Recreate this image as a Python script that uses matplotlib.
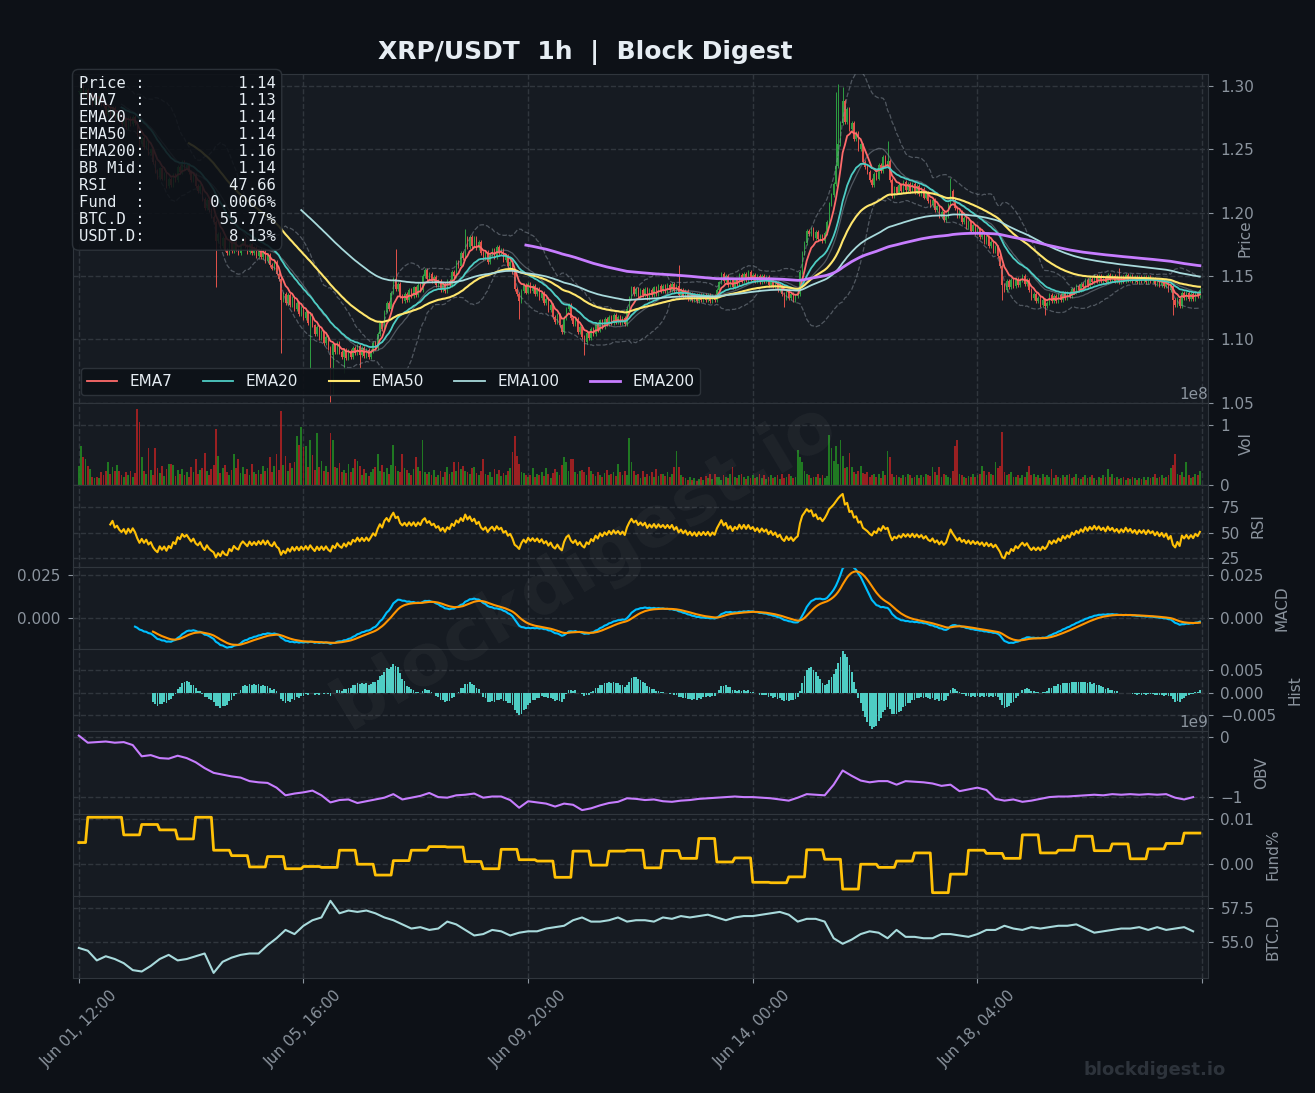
import numpy as np
import pandas as pd
import matplotlib
matplotlib.use("Agg")
import matplotlib.pyplot as plt
from matplotlib.ticker import FuncFormatter, MultipleLocator

# Colores (tema oscuro)
BG = '#0d1117'
PANEL = '#161b22'
GRID = '#30363d'
TXT = '#8b949e'
WHITE = '#e6edf3'

# Cierres horarios XRP/USDT desde Jun 01 12:00
close = [
    1.295, 1.300, 1.293, 1.297, 1.291, 1.294, 1.286, 1.291, 1.287, 1.293, 1.286, 1.284, 1.278, 1.282, 1.277, 1.283, 1.275, 1.278, 1.273, 1.270,
    1.274, 1.268, 1.275, 1.270, 1.276, 1.271, 1.262, 1.254, 1.259, 1.252, 1.256, 1.247, 1.250, 1.240, 1.233, 1.228, 1.235, 1.227, 1.231, 1.221,
    1.227, 1.222, 1.230, 1.226, 1.236, 1.232, 1.240, 1.235, 1.238, 1.232, 1.226, 1.230, 1.221, 1.217, 1.221, 1.211, 1.204, 1.210, 1.202, 1.197,
    1.193, 1.178, 1.183, 1.174, 1.180, 1.171, 1.168, 1.176, 1.170, 1.177, 1.171, 1.168, 1.175, 1.179, 1.174, 1.169, 1.175, 1.168, 1.172, 1.166,
    1.171, 1.165, 1.170, 1.162, 1.167, 1.159, 1.156, 1.161, 1.152, 1.148, 1.131, 1.136, 1.129, 1.135, 1.127, 1.133, 1.124, 1.129, 1.120, 1.125,
    1.117, 1.122, 1.113, 1.119, 1.111, 1.104, 1.110, 1.101, 1.106, 1.097, 1.102, 1.093, 1.088, 1.096, 1.090, 1.097, 1.090, 1.086, 1.092, 1.085,
    1.091, 1.086, 1.093, 1.089, 1.095, 1.088, 1.093, 1.087, 1.092, 1.086, 1.091, 1.097, 1.093, 1.104, 1.113, 1.108, 1.122, 1.129, 1.124, 1.137,
    1.148, 1.140, 1.144, 1.134, 1.130, 1.136, 1.131, 1.139, 1.134, 1.141, 1.135, 1.143, 1.139, 1.150, 1.155, 1.148, 1.152, 1.146, 1.149, 1.143,
    1.146, 1.139, 1.144, 1.138, 1.146, 1.143, 1.153, 1.150, 1.161, 1.158, 1.168, 1.164, 1.180, 1.173, 1.181, 1.174, 1.180, 1.172, 1.177, 1.168,
    1.164, 1.169, 1.161, 1.167, 1.171, 1.165, 1.173, 1.168, 1.171, 1.163, 1.166, 1.158, 1.161, 1.153, 1.140, 1.136, 1.130, 1.138, 1.143, 1.137,
    1.144, 1.138, 1.142, 1.136, 1.140, 1.133, 1.137, 1.129, 1.132, 1.123, 1.127, 1.118, 1.114, 1.119, 1.111, 1.106, 1.117, 1.124, 1.127, 1.117,
    1.112, 1.116, 1.106, 1.110, 1.102, 1.098, 1.105, 1.101, 1.108, 1.104, 1.112, 1.107, 1.115, 1.110, 1.116, 1.112, 1.118, 1.113, 1.119, 1.114,
    1.118, 1.113, 1.117, 1.112, 1.124, 1.133, 1.141, 1.136, 1.140, 1.134, 1.139, 1.135, 1.140, 1.133, 1.139, 1.135, 1.141, 1.136, 1.142, 1.138,
    1.142, 1.138, 1.143, 1.139, 1.144, 1.138, 1.142, 1.135, 1.139, 1.134, 1.138, 1.132, 1.136, 1.131, 1.135, 1.130, 1.135, 1.131, 1.135, 1.131,
    1.135, 1.130, 1.134, 1.131, 1.139, 1.145, 1.152, 1.146, 1.150, 1.143, 1.147, 1.141, 1.147, 1.144, 1.151, 1.146, 1.152, 1.147, 1.153, 1.148,
    1.151, 1.146, 1.150, 1.145, 1.150, 1.146, 1.149, 1.143, 1.147, 1.142, 1.145, 1.139, 1.142, 1.136, 1.133, 1.138, 1.133, 1.136, 1.131, 1.134,
    1.136, 1.153, 1.168, 1.176, 1.186, 1.183, 1.187, 1.180, 1.185, 1.179, 1.182, 1.178, 1.184, 1.193, 1.207, 1.214, 1.223, 1.237, 1.254, 1.271,
    1.288, 1.272, 1.282, 1.266, 1.271, 1.258, 1.263, 1.250, 1.254, 1.240, 1.236, 1.232, 1.226, 1.222, 1.231, 1.227, 1.238, 1.233, 1.244, 1.238,
    1.241, 1.226, 1.213, 1.220, 1.216, 1.222, 1.217, 1.224, 1.218, 1.223, 1.217, 1.223, 1.216, 1.221, 1.215, 1.219, 1.212, 1.216, 1.209, 1.206,
    1.210, 1.202, 1.205, 1.197, 1.201, 1.194, 1.197, 1.206, 1.217, 1.210, 1.204, 1.197, 1.201, 1.193, 1.196, 1.189, 1.193, 1.186, 1.190, 1.184,
    1.187, 1.181, 1.184, 1.177, 1.181, 1.174, 1.177, 1.170, 1.173, 1.166, 1.158, 1.143, 1.139, 1.146, 1.141, 1.147, 1.142, 1.148, 1.143, 1.147,
    1.150, 1.144, 1.147, 1.139, 1.133, 1.136, 1.130, 1.133, 1.127, 1.131, 1.126, 1.129, 1.135, 1.130, 1.134, 1.130, 1.135, 1.131, 1.137, 1.133,
    1.137, 1.134, 1.140, 1.137, 1.142, 1.139, 1.144, 1.141, 1.147, 1.143, 1.148, 1.145, 1.150, 1.146, 1.150, 1.146, 1.149, 1.145, 1.151, 1.147,
    1.150, 1.146, 1.149, 1.145, 1.149, 1.146, 1.151, 1.147, 1.150, 1.146, 1.149, 1.145, 1.149, 1.146, 1.149, 1.145, 1.149, 1.146, 1.148, 1.144,
    1.147, 1.143, 1.146, 1.142, 1.145, 1.139, 1.142, 1.131, 1.127, 1.132, 1.126, 1.137, 1.133, 1.137, 1.132, 1.136, 1.132, 1.137, 1.134, 1.139,
]

# Mechas largas visibles en el grafico
high_idx = [141, 172, 267, 337, 338, 340, 360, 388, 463]
high_val = [1.170, 1.186, 1.157, 1.294, 1.300, 1.298, 1.255, 1.226, 1.155]
low_idx = [61, 90, 103, 112, 113, 118, 125, 196, 225, 314, 411, 430, 487]
low_val = [1.143, 1.091, 1.078, 1.052, 1.058, 1.075, 1.078, 1.118, 1.089, 1.127, 1.133, 1.121, 1.121]

# Volumen (x 1e7)
volume = [
    3.2, 6.5, 4.6, 4.3, 3.2, 2.7, 1.3, 1.1, 1.3, 1.1, 2.2, 1.6, 2.4, 3.8, 1.9, 3.0, 2.4, 3.3, 2.4, 1.6,
    1.3, 2.2, 1.6, 2.3, 1.4, 2.0, 12.6, 10.5, 4.6, 2.4, 1.8, 6.2, 2.5, 1.7, 6.2, 2.8, 2.0, 3.1, 1.5, 2.6,
    3.5, 3.5, 3.4, 1.5, 2.5, 1.8, 2.7, 1.6, 2.2, 1.4, 3.0, 2.1, 4.3, 1.9, 2.5, 2.9, 5.4, 2.3, 1.7, 2.7,
    3.4, 9.4, 4.8, 2.0, 2.9, 3.3, 2.1, 1.6, 2.5, 5.1, 2.8, 4.3, 2.0, 3.0, 1.9, 2.6, 1.6, 3.5, 2.2, 1.8,
    2.5, 1.9, 3.1, 2.4, 2.8, 4.6, 2.2, 3.1, 5.1, 2.5, 12.4, 3.4, 4.8, 2.3, 3.6, 2.8, 3.8, 8.1, 6.7, 9.7,
    6.4, 6.5, 3.0, 7.5, 5.0, 2.5, 8.6, 3.0, 4.0, 2.4, 3.2, 2.1, 8.6, 7.5, 3.0, 2.8, 3.6, 2.2, 2.5, 2.0,
    3.5, 2.1, 2.9, 4.3, 4.0, 3.2, 1.6, 2.7, 2.0, 1.5, 2.2, 2.6, 3.0, 5.1, 2.4, 3.3, 2.1, 2.8, 1.9, 3.4,
    6.7, 3.1, 2.4, 2.1, 5.1, 2.9, 2.5, 2.0, 1.7, 2.6, 4.6, 3.0, 2.3, 7.5, 2.2, 1.8, 2.1, 1.6, 2.5, 1.4,
    1.6, 2.4, 1.3, 2.1, 3.0, 1.9, 2.2, 3.8, 2.4, 3.8, 2.6, 3.2, 2.4, 2.2, 1.9, 2.8, 3.0, 2.0, 1.6, 2.3,
    4.3, 1.9, 1.6, 2.2, 1.4, 2.7, 1.8, 2.5, 1.5, 2.0, 1.7, 2.3, 2.9, 5.5, 8.1, 4.8, 3.5, 2.2, 2.0, 1.6,
    1.3, 1.6, 2.9, 1.4, 1.9, 1.6, 2.2, 1.5, 2.8, 1.9, 1.2, 2.0, 2.6, 2.1, 1.7, 3.3, 4.6, 3.8, 2.3, 4.3,
    4.3, 2.1, 1.8, 2.4, 2.5, 2.2, 1.6, 3.0, 2.4, 1.9, 1.5, 2.2, 1.7, 1.4, 2.0, 2.5, 1.6, 1.9, 2.1, 1.5,
    3.5, 2.1, 1.6, 2.4, 1.7, 7.8, 3.8, 2.4, 1.6, 1.9, 1.2, 2.3, 1.3, 1.9, 1.5, 2.2, 1.4, 2.6, 1.5, 1.8,
    1.9, 1.5, 2.2, 1.3, 1.8, 3.0, 5.6, 3.0, 1.6, 1.3, 1.1, 0.9, 1.4, 0.8, 1.2, 0.7, 1.0, 1.3, 0.9, 1.5,
    1.2, 1.8, 1.0, 1.9, 1.4, 1.3, 0.9, 1.6, 1.3, 1.1, 1.8, 3.0, 1.4, 1.2, 1.6, 1.9, 1.3, 1.0, 1.5, 1.2,
    1.6, 1.1, 1.4, 1.9, 1.2, 1.6, 1.0, 1.3, 1.6, 1.1, 1.3, 1.6, 1.0, 1.8, 1.2, 1.3, 1.9, 1.5, 1.1, 1.4,
    5.9, 4.6, 3.8, 2.4, 1.9, 1.6, 1.2, 1.4, 1.3, 1.9, 1.1, 1.6, 1.2, 1.5, 8.3, 6.2, 4.0, 6.5, 3.5, 7.5,
    4.8, 2.9, 3.0, 5.4, 3.0, 2.2, 1.9, 2.4, 3.2, 2.0, 1.9, 2.2, 1.4, 1.6, 1.9, 1.3, 1.8, 1.2, 2.4, 1.6,
    5.6, 4.6, 1.9, 1.4, 1.6, 1.3, 1.1, 1.6, 1.3, 1.9, 1.6, 1.2, 1.4, 1.6, 1.1, 1.6, 1.3, 1.9, 1.6, 1.5,
    3.0, 2.2, 1.6, 3.0, 1.4, 1.9, 1.6, 1.3, 1.2, 2.4, 6.5, 7.5, 1.9, 1.6, 1.3, 1.2, 1.5, 1.3, 1.9, 1.4,
    1.6, 1.9, 3.2, 2.4, 1.6, 2.2, 1.9, 1.6, 3.8, 2.9, 3.2, 8.9, 2.2, 1.6, 1.9, 2.2, 1.3, 1.4, 1.6, 1.2,
    1.6, 1.3, 2.2, 3.2, 1.6, 1.9, 1.4, 1.6, 1.2, 1.9, 1.3, 1.6, 1.4, 2.7, 1.2, 1.6, 1.3, 1.1, 1.6, 1.3,
    1.6, 1.9, 1.1, 1.3, 1.9, 1.2, 1.0, 1.4, 1.6, 1.1, 1.3, 1.6, 1.2, 0.9, 1.4, 1.2, 1.6, 1.3, 2.7, 1.4,
    1.9, 1.2, 1.3, 1.0, 1.1, 1.3, 0.9, 1.2, 1.0, 1.3, 1.1, 0.8, 1.2, 1.0, 1.3, 0.9, 1.3, 1.1, 1.4, 1.9,
    1.2, 1.3, 1.6, 1.2, 1.4, 1.6, 2.9, 3.3, 5.1, 1.9, 1.6, 2.2, 1.4, 3.8, 1.6, 1.2, 1.4, 1.9, 1.6, 2.4,
]

# OBV cada 4 horas (x 1e9)
obv_4h = [
    0.03, -0.09, -0.08, -0.07, -0.09, -0.08, -0.13, -0.32, -0.30, -0.35, -0.36, -0.31, -0.35, -0.42, -0.52, -0.60,
    -0.63, -0.66, -0.68, -0.74, -0.76, -0.77, -0.85, -0.98, -0.95, -0.93, -0.90, -0.98, -1.10, -1.06, -1.05, -1.11,
    -1.08, -1.05, -1.02, -0.96, -1.05, -1.02, -0.99, -0.94, -1.01, -1.02, -0.98, -0.97, -0.95, -1.02, -1.00, -1.00,
    -1.06, -1.19, -1.08, -1.10, -1.12, -1.17, -1.12, -1.14, -1.23, -1.20, -1.15, -1.11, -1.09, -1.03, -1.04, -1.06,
    -1.05, -1.08, -1.09, -1.07, -1.06, -1.04, -1.03, -1.02, -1.01, -1.00, -1.01, -1.01, -1.02, -1.03, -1.05, -1.07,
    -1.02, -0.96, -0.97, -0.98, -0.80, -0.56, -0.65, -0.73, -0.76, -0.74, -0.74, -0.80, -0.74, -0.75, -0.76, -0.78,
    -0.82, -0.80, -0.91, -0.88, -0.85, -0.89, -1.04, -1.07, -1.05, -1.09, -1.07, -1.04, -1.01, -1.00, -1.00, -0.99,
    -0.98, -0.97, -0.98, -0.96, -0.97, -0.96, -0.97, -0.96, -0.97, -0.96, -1.02, -1.05, -1.01,
]

# Funding rate (%) por periodo de 8h (el primero cubre 4h)
funding = [
    0.0047, 0.0103, 0.0103, 0.0064, 0.0087, 0.0075, 0.0055, 0.0103, 0.0030, 0.0018, -0.0007, 0.0016, -0.0011,
    -0.0006, -0.0008, 0.0030, -0.0001, -0.0025, 0.0007, 0.0030, 0.0038, 0.0037, 0.0005, -0.0011, 0.0032, 0.0009,
    0.0006, -0.0030, 0.0028, -0.0003, 0.0028, 0.0030, -0.0009, 0.0029, 0.0012, 0.0056, 0.0004, 0.0013, -0.0041,
    -0.0042, -0.0029, 0.0031, 0.0010, -0.0056, -0.0001, -0.0008, 0.0006, 0.0024, -0.0064, -0.0023, 0.0030, 0.0023,
    0.0012, 0.0064, 0.0024, 0.0030, 0.0061, 0.0029, 0.0044, 0.0011, 0.0033, 0.0045, 0.0068,
]

# Dominancia BTC cada 4 horas (%)
btcd_4h = [
    54.6, 54.4, 53.7, 54.0, 53.8, 53.5, 53.0, 52.9, 53.3, 53.8, 54.1, 53.7, 53.8, 54.0, 54.2, 52.8,
    53.6, 53.9, 54.1, 54.2, 54.2, 54.8, 55.3, 55.9, 55.6, 56.2, 56.6, 56.8, 58.0, 57.1, 57.3, 57.2,
    57.3, 57.1, 56.8, 56.6, 56.3, 56.0, 56.1, 55.9, 56.0, 56.5, 56.3, 55.9, 55.5, 55.6, 55.9, 55.8,
    55.5, 55.7, 55.8, 55.8, 56.0, 56.1, 56.2, 56.6, 56.8, 56.5, 56.5, 56.6, 56.8, 56.5, 56.6, 56.6,
    56.5, 56.8, 56.7, 56.9, 56.8, 56.9, 57.0, 56.8, 56.6, 56.8, 56.9, 56.9, 57.0, 57.1, 57.2, 57.0,
    56.5, 56.7, 56.7, 56.5, 55.3, 54.9, 55.2, 55.6, 55.8, 55.7, 55.3, 55.9, 55.4, 55.4, 55.3, 55.3,
    55.6, 55.6, 55.5, 55.4, 55.6, 55.9, 55.9, 56.2, 56.0, 55.9, 56.1, 56.0, 56.1, 56.2, 56.2, 56.3,
    56.0, 55.7, 55.8, 55.9, 56.0, 56.0, 56.1, 55.9, 56.1, 55.9, 56.0, 56.1, 55.8,
]

info_labels = ['Price', 'EMA7', 'EMA20', 'EMA50', 'EMA200', 'BB Mid', 'RSI', 'Fund', 'BTC.D', 'USDT.D']
info_values = ['1.14', '1.13', '1.14', '1.14', '1.16', '1.14', '47.66', '0.0066%', '55.77%', '8.13%']

# ---------------- datos derivados ----------------
n = min(len(close), len(volume))
c = pd.Series(close[:n])
vol = pd.Series(volume[:n]) * 1e7
x = np.arange(n)
o = c.shift(1).fillna(c.iloc[0])
hi = np.maximum(o, c).values.copy()
lo = np.minimum(o, c).values.copy()
for i, v in zip(high_idx, high_val):
    hi[i] = max(hi[i], v)
for i, v in zip(low_idx, low_val):
    lo[i] = min(lo[i], v)
up = (c >= o).values

def ema(s, span):
    return s.ewm(span=span, adjust=False).mean().where(s.index >= span - 1)

emas = {p: ema(c, p) for p in [7, 20, 50, 100, 200]}
bb_mid = c.rolling(20).mean()
bb_std = c.rolling(20).std()
bb_up = bb_mid + 2 * bb_std
bb_lo = bb_mid - 2 * bb_std

delta = c.diff()
gain = delta.clip(lower=0).ewm(alpha=1 / 14, adjust=False, min_periods=14).mean()
loss = (-delta.clip(upper=0)).ewm(alpha=1 / 14, adjust=False, min_periods=14).mean()
rsi = 100 - 100 / (1 + gain / loss)

macd = (c.ewm(span=12, adjust=False).mean() - c.ewm(span=26, adjust=False).mean()).where(c.index >= 25)
signal = macd.ewm(span=9, adjust=False).mean().where(c.index >= 33)
hist = macd - signal

fund_h = np.repeat(funding, [4] + [8] * (len(funding) - 1))[:n]
x4 = np.arange(len(obv_4h)) * 4
xb = np.arange(len(btcd_4h)) * 4

dates = pd.date_range('2025-06-01 12:00', periods=n, freq='h')

def fmt_fecha(v, pos):
    i = int(round(v))
    if 0 <= i < n:
        return dates[i].strftime('%b %d, %H:%M')
    return ''

# ---------------- figura ----------------
fig = plt.figure(figsize=(13.15, 10.93), dpi=100, facecolor=BG)
gs = fig.add_gridspec(8, 1, height_ratios=[4, 1, 1, 1, 1, 1, 1, 1], hspace=0,
                      left=0.0555, right=0.9186, top=0.9323, bottom=0.1052)
axes = [fig.add_subplot(gs[0])]
for k in range(1, 8):
    axes.append(fig.add_subplot(gs[k], sharex=axes[0]))
ax_p, ax_v, ax_r, ax_m, ax_h, ax_o, ax_f, ax_b = axes

for ax in axes:
    ax.set_facecolor(PANEL)
    ax.grid(True, color=GRID, linestyle='--', linewidth=1.0)
    ax.set_axisbelow(True)
    for s in ax.spines.values():
        s.set_color(GRID)
    ax.yaxis.tick_right()
    ax.yaxis.set_label_position('right')
    ax.tick_params(axis='y', colors=TXT, labelsize=11, pad=5.5)
    ax.tick_params(axis='x', colors=TXT, labelsize=11)
    ax.yaxis.get_offset_text().set_color(TXT)
    ax.yaxis.get_offset_text().set_fontsize(11)
for ax in axes[:-1]:
    ax.tick_params(axis='x', labelbottom=False, length=0)

# Precio
col_velas = np.where(up, '#2ea043', '#e5534b')
ax_p.vlines(x, lo - 0.0015, hi + 0.0015, colors=col_velas, linewidth=0.7, zorder=2)
body = np.abs(c - o).values
ax_p.bar(x, np.maximum(body, 0.0008), bottom=np.minimum(o, c).values, width=0.6,
         color=col_velas, zorder=2)
ax_p.plot(x, bb_up, color=TXT, linestyle='--', linewidth=0.9, alpha=0.5, zorder=3)
ax_p.plot(x, bb_lo, color=TXT, linestyle='--', linewidth=0.9, alpha=0.5, zorder=3)
ax_p.plot(x, bb_mid, color=TXT, linewidth=0.9, alpha=0.5, zorder=3)
ema_cols = {7: '#ff6b6b', 20: '#4ecdc4', 50: '#ffe66d', 100: '#a8dadc', 200: '#c77dff'}
ema_lw = {7: 1.3, 20: 1.3, 50: 1.5, 100: 1.3, 200: 2.0}
for p in [7, 20, 50, 100, 200]:
    ax_p.plot(x, emas[p], color=ema_cols[p], linewidth=ema_lw[p], label=f'EMA{p}', zorder=4)
ax_p.set_ylim(1.05, 1.3096)
ax_p.yaxis.set_major_locator(MultipleLocator(0.05))
ax_p.set_ylabel('Price', color=TXT, fontsize=11)
ax_p.yaxis.set_label_coords(1.026, 0.5)
leg = ax_p.legend(loc='lower left', ncol=5, fontsize=11, facecolor=BG, edgecolor=GRID,
                  labelcolor=WHITE, framealpha=0.9, borderaxespad=0.5)
leg.set_zorder(6)

info = '\n'.join(f'{lab:<6}:{val:>14}' for lab, val in zip(info_labels, info_values))
ax_p.text(0.005, 0.995, info, transform=ax_p.transAxes, va='top', ha='left', family='DejaVu Sans Mono',
          fontsize=11.2, color=WHITE, linespacing=1.17, zorder=10,
          bbox=dict(boxstyle='round,pad=0.4', facecolor=BG, edgecolor=GRID, alpha=0.88))

# Volumen
ax_v.bar(x, vol, width=0.8, color=np.where(up, 'forestgreen', 'firebrick'), alpha=0.85)
ax_v.set_ylim(0, 1.37e8)
ax_v.set_yticks([0, 1e8])
ax_v.set_ylabel('Vol', color=TXT, fontsize=11, labelpad=6)

# RSI
ax_r.plot(x, rsi, color='#ffc107', linewidth=1.5)
ax_r.set_ylim(16.2, 96.6)
ax_r.set_yticks([25, 50, 75])
ax_r.set_ylabel('RSI', color=TXT, fontsize=11, labelpad=8)

# MACD
ax_m.plot(x, macd, color='#00bfff', linewidth=1.5)
ax_m.plot(x, signal, color='#ff9500', linewidth=1.5)
ax_m.set_ylim(-0.0186, 0.0297)
ax_m.set_yticks([0.0, 0.025])
ax_m.yaxis.set_major_formatter(FuncFormatter(lambda v, p: f'{v:.3f}'))
ax_m.tick_params(axis='y', left=True, labelleft=True)
ax_m.set_ylabel('MACD', color=TXT, fontsize=11, labelpad=8)

# Histograma
ax_h.bar(x, hist, width=0.8, color='#4ecdc4')
ax_h.set_ylim(-0.0086, 0.0097)
ax_h.set_yticks([-0.005, 0.0, 0.005])
ax_h.yaxis.set_major_formatter(FuncFormatter(lambda v, p: f'{v:.3f}'.replace('-', '\u2212')))
ax_h.set_ylabel('Hist', color=TXT, fontsize=11, labelpad=8)

# OBV
ax_o.plot(x4, np.array(obv_4h) * 1e9, color='#c77dff', linewidth=1.5)
ax_o.set_ylim(-1.29e9, 0.10e9)
ax_o.set_yticks([-1e9, 0])
ax_o.set_ylabel('OBV', color=TXT, fontsize=11, labelpad=8)

# Funding
ax_f.plot(x, fund_h, color='#ffc107', linewidth=2)
ax_f.set_ylim(-0.0071, 0.0111)
ax_f.set_yticks([0.0, 0.01])
ax_f.yaxis.set_major_formatter(FuncFormatter(lambda v, p: f'{v:.2f}'))
ax_f.set_ylabel('Fund%', color=TXT, fontsize=11, labelpad=8)

# BTC.D
ax_b.plot(xb, btcd_4h, color='#a8dadc', linewidth=1.5)
ax_b.set_ylim(52.43, 58.36)
ax_b.set_yticks([55.0, 57.5])
ax_b.set_ylabel('BTC.D', color=TXT, fontsize=11, labelpad=8)

ax_b.xaxis.set_major_locator(MultipleLocator(100))
ax_b.xaxis.set_major_formatter(FuncFormatter(fmt_fecha))
ax_b.tick_params(axis='x', labelrotation=45, colors=TXT)
ax_b.set_xlim(-2.6, 502.6)

fig.text(0.445, 0.952, 'XRP/USDT  1h  |  Block Digest', ha='center', va='center',
         fontsize=18, fontweight='bold', color=WHITE)
fig.text(0.445, 0.483, 'blockdigest.io', ha='center', va='center', rotation=31,
         fontsize=52, fontweight='bold', color='white', alpha=0.04)
fig.text(0.932, 0.021, 'blockdigest.io', ha='right', va='center',
         fontsize=13, fontweight='bold', color='#2d333b')

plt.savefig('out.png', dpi=100, facecolor=BG)
print('Grafico guardado como out.png')
